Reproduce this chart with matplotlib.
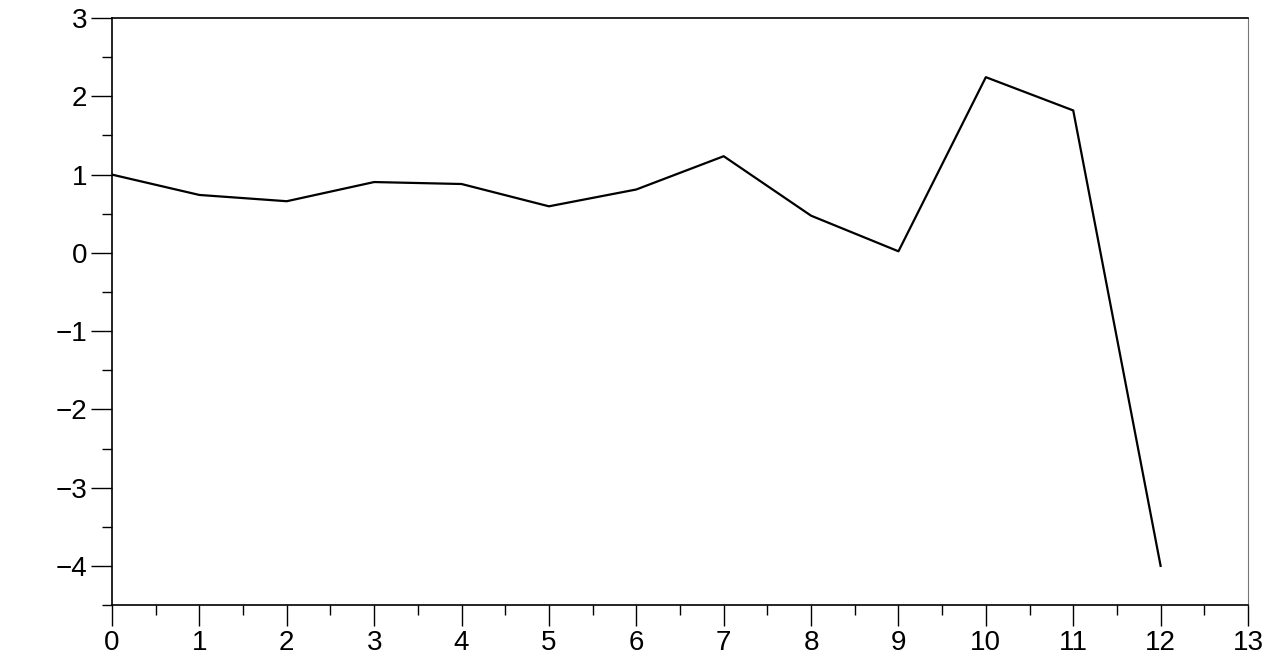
import matplotlib.pyplot as plt
from matplotlib.ticker import MultipleLocator

plt.rcParams['font.family'] = ['Liberation Sans', 'DejaVu Sans']

x_vals = [0, 1, 2, 3, 4, 5, 6, 7, 8, 9, 10, 11, 12]
y_vals = [1.0, 0.74, 0.66, 0.905, 0.88, 0.595, 0.81, 1.235, 0.475, 0.02, 2.245, 1.82, -4.0]

fig = plt.figure(figsize=(12.8, 6.58), dpi=100)
ax = fig.add_axes([0.0875, 0.0805, 0.8875, 0.892])

ax.plot(x_vals, y_vals, color='black', linewidth=1.6)

ax.set_xlim(0, 13)
ax.set_ylim(-4.5, 3)
ax.xaxis.set_major_locator(MultipleLocator(1))
ax.xaxis.set_minor_locator(MultipleLocator(0.5))
ax.yaxis.set_major_locator(MultipleLocator(1))
ax.yaxis.set_minor_locator(MultipleLocator(0.5))
ax.tick_params(which='major', direction='out', length=15, width=1, labelsize=20, pad=3)
ax.tick_params(which='minor', direction='out', length=7, width=1)
ax.yaxis.set_ticks_position('left')
ax.xaxis.set_ticks_position('bottom')

ax.spines['right'].set_color('#777777')
for s in ['left', 'bottom', 'top']:
    ax.spines[s].set_linewidth(1.2)

fig.savefig('out.png', dpi=100)
